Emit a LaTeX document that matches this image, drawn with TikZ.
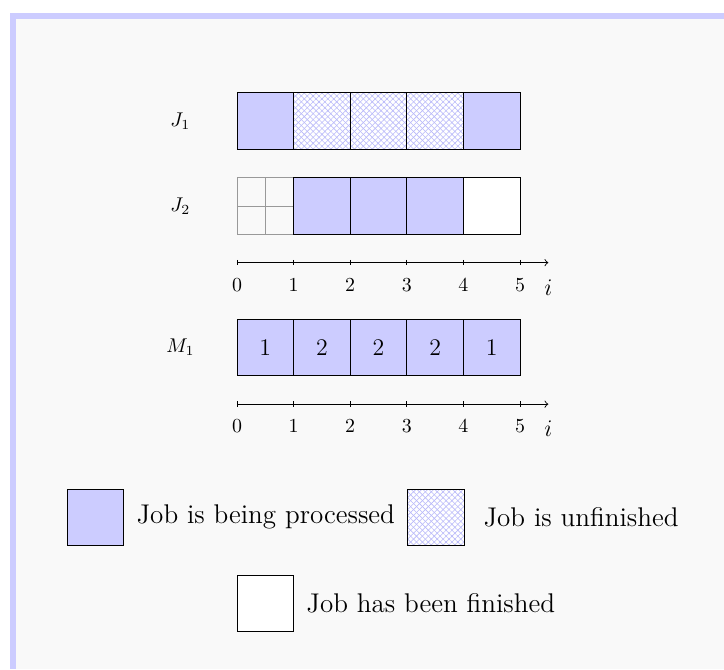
\documentclass[tikz,border=0pt]{standalone}
\usetikzlibrary{patterns.meta}
\definecolor{procblue}{RGB}{204,204,255}
\definecolor{bggray}{RGB}{249,249,249}
\definecolor{hatchblue}{RGB}{185,185,250}
\begin{document}
\begin{tikzpicture}[x=1cm,y=1cm,
  cellbox/.style={draw=black, line width=0.45pt, minimum width=1cm, minimum height=1cm, inner sep=0pt, outer sep=0pt},
  proc/.style={cellbox, fill=procblue},
  done/.style={cellbox, fill=white},
  unfin/.style={cellbox, preaction={fill=white},
     preaction={pattern={Lines[angle=45,distance=2.1pt,line width=0.3pt]}, pattern color=hatchblue},
     preaction={pattern={Lines[angle=-45,distance=2.1pt,line width=0.3pt]}, pattern color=hatchblue}},
  rowlabel/.style={font=\fontsize{10}{12}\selectfont},
  ticklabel/.style={font=\fontsize{10}{12}\selectfont, inner sep=0pt},
  axislabel/.style={font=\fontsize{13}{15}\selectfont, inner sep=0pt},
  cellnum/.style={font=\fontsize{12}{14}\selectfont},
  legendtext/.style={font=\fontsize{13.6}{16}\selectfont, inner sep=0pt, anchor=west},
  axisline/.style={line width=0.45pt, ->},
  tickline/.style={line width=0.45pt}
]
\useasboundingbox (-4.187,0) rectangle (8.604,-11.82);
\fill[procblue] (-4.011,-0.230) rectangle (8.604,-11.82);
\fill[bggray] (-3.905,-0.336) rectangle (8.604,-11.82);

% J1 row
\node[rowlabel] (lj1) at (-1.0,-2.14) {$J_1$};
\node[proc]  (j11) at (0.5,-2.14) {};
\node[unfin] (j12) at (1.5,-2.14) {};
\node[unfin] (j13) at (2.5,-2.14) {};
\node[unfin] (j14) at (3.5,-2.14) {};
\node[proc]  (j15) at (4.5,-2.14) {};

% J2 row
\node[rowlabel] (lj2) at (-1.0,-3.64) {$J_2$};
\node[minimum width=1cm, minimum height=1cm, inner sep=0pt, outer sep=0pt] (j21) at (0.5,-3.64) {};
\draw[gray!80, line width=0.35pt] (j21.north west) rectangle (j21.south east);
\draw[gray!80, line width=0.35pt] (j21.north) -- (j21.south);
\draw[gray!80, line width=0.35pt] (j21.west) -- (j21.east);
\node[proc] (j22) at (1.5,-3.64) {};
\node[proc] (j23) at (2.5,-3.64) {};
\node[proc] (j24) at (3.5,-3.64) {};
\node[done] (j25) at (4.5,-3.64) {};

% axis 1
\coordinate (a1s) at (0,-4.64);
\coordinate (a1e) at (5.5,-4.64);
\draw[axisline] (a1s) -- (a1e);
\foreach \k in {0,...,5} {
  \coordinate (a1t\k) at (\k,-4.64);
  \draw[tickline] ([yshift=0.05cm]a1t\k) -- ([yshift=-0.05cm]a1t\k);
  \node[ticklabel] (a1l\k) at (\k,-5.03) {\k};
}
\node[axislabel] (a1i) at (5.5,-5.08) {$i$};

% M1 row
\node[rowlabel] (lm1) at (-1.0,-6.14) {$M_1$};
\node[proc, cellnum] (m11) at (0.5,-6.14) {1};
\node[proc, cellnum] (m12) at (1.5,-6.14) {2};
\node[proc, cellnum] (m13) at (2.5,-6.14) {2};
\node[proc, cellnum] (m14) at (3.5,-6.14) {2};
\node[proc, cellnum] (m15) at (4.5,-6.14) {1};

% axis 2
\coordinate (a2s) at (0,-7.14);
\coordinate (a2e) at (5.5,-7.14);
\draw[axisline] (a2s) -- (a2e);
\foreach \k in {0,...,5} {
  \coordinate (a2t\k) at (\k,-7.14);
  \draw[tickline] ([yshift=0.05cm]a2t\k) -- ([yshift=-0.05cm]a2t\k);
  \node[ticklabel] (a2l\k) at (\k,-7.53) {\k};
}
\node[axislabel] (a2i) at (5.5,-7.58) {$i$};

% legend
\node[proc] (lg1) at (-2.5,-9.14) {};
\node[legendtext] (lt1) at (-1.78,-9.14) {Job is being processed};
\node[unfin] (lg2) at (3.52,-9.14) {};
\node[legendtext] (lt2) at (4.35,-9.14) {Job is unfinished};
\node[done] (lg3) at (0.5,-10.66) {};
\node[legendtext] (lt3) at (1.22,-10.66) {Job has been finished};
\end{tikzpicture}
\end{document}
